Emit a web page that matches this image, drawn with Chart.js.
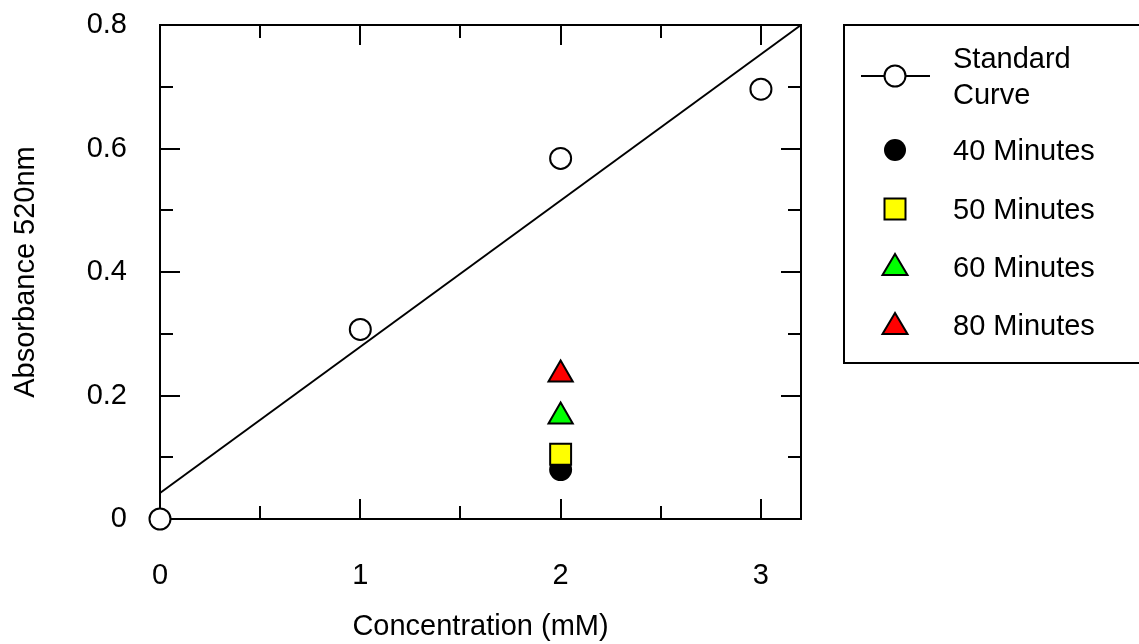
<!DOCTYPE html>
<html>
<head>
<meta charset="utf-8">
<script src="https://cdn.jsdelivr.net/npm/chart.js@4.4.1/dist/chart.umd.min.js"></script>
<style>
  body { margin: 0; background: #fff; overflow: hidden; }
  #wrap { position: relative; width: 1139px; height: 644px; overflow: hidden; }
  #legendBox { position: absolute; left: 843px; top: 24px; width: 320px; height: 340px; border: 2px solid #000; box-sizing: border-box; }
  .lg { position: absolute; left: 953px; font: 29px "Liberation Sans", Arial, sans-serif; line-height: 34px; color: #000; white-space: nowrap; }
  #marks { position: absolute; left: 0; top: 0; pointer-events: none; }
</style>
</head>
<body>
<div id="wrap">
  <canvas id="chart" width="1139" height="644"></canvas>
  <div id="legendBox"></div>
  <svg id="marks" width="1139" height="644"></svg>
</div>

<script>
// DATA
const stdX = [0, 1, 2, 3];
const stdY = [0, 0.307, 0.584, 0.696];

const fitX = [0, 3.2];
const fitY = [0.042, 0.8];

const timeLabels = ["40 Minutes", "50 Minutes", "60 Minutes", "80 Minutes"];
const timeX = [2, 2, 2, 2];
const timeY = [0.08, 0.105, 0.166, 0.234];

const xTicks = [0, 1, 2, 3];
const yTicks = [0, 0.2, 0.4, 0.6, 0.8];
const xMinor = [0.5, 1.5, 2.5];
const yMinor = [0.1, 0.3, 0.5, 0.7];

const FONT = "'Liberation Sans', Arial, sans-serif";

// STYLES PER TIME SERIES
const timeStyle = [
  { style: "circle", fill: "#000000", radius: 10.5 },
  { style: "rect", fill: "#ffff00", radius: 14.8 },
  { style: "triangle", fill: "#00ff00", radius: 14 },
  { style: "triangle", fill: "#ff0000", radius: 14 }
];

// FRAME + INWARD TICKS
const framePlugin = {
  id: "frame",
  beforeDatasetsDraw(chart) {
    const { ctx, chartArea: a, scales: { x, y } } = chart;
    ctx.save();
    ctx.strokeStyle = "#000";
    ctx.lineWidth = 2;
    ctx.lineCap = "butt";
    ctx.beginPath();
    const vMark = (v, len) => {
      const px = Math.round(x.getPixelForValue(v));
      ctx.moveTo(px, a.bottom); ctx.lineTo(px, a.bottom - len);
      ctx.moveTo(px, a.top); ctx.lineTo(px, a.top + len);
    };
    const hMark = (v, len) => {
      const py = Math.round(y.getPixelForValue(v));
      ctx.moveTo(a.left, py); ctx.lineTo(a.left + len, py);
      ctx.moveTo(a.right, py); ctx.lineTo(a.right - len, py);
    };
    xTicks.forEach(v => vMark(v, 20));
    xMinor.forEach(v => vMark(v, 13));
    yTicks.forEach(v => hMark(v, 20));
    yMinor.forEach(v => hMark(v, 13));
    ctx.stroke();
    ctx.strokeRect(a.left, a.top, a.right - a.left, a.bottom - a.top);
    ctx.restore();
  }
};

const datasets = [];

timeLabels.forEach((label, i) => {
  const s = timeStyle[i];
  datasets.push({
    label: label,
    data: [{ x: timeX[i], y: timeY[i] }],
    showLine: false,
    pointStyle: s.style,
    pointRadius: s.radius,
    pointBackgroundColor: s.fill,
    pointBorderColor: "#000",
    pointBorderWidth: 2,
    order: 4 - i,
    clip: false
  });
});

datasets.push({
  label: "Standard Curve",
  data: stdX.map((v, i) => ({ x: v, y: stdY[i] })),
  showLine: false,
  pointStyle: "circle",
  pointRadius: 10.5,
  pointBackgroundColor: "#ffffff",
  pointBorderColor: "#000",
  pointBorderWidth: 2,
  order: 5,
  clip: false
});

datasets.push({
  label: "fit",
  data: fitX.map((v, i) => ({ x: v, y: fitY[i] })),
  showLine: true,
  borderColor: "#000",
  borderWidth: 2,
  pointRadius: 0,
  order: 10,
  clip: false
});

new Chart(document.getElementById("chart"), {
  type: "scatter",
  data: { datasets: datasets },
  options: {
    responsive: false,
    animation: false,
    events: [],
    layout: { padding: { top: 25, right: 338, left: 0, bottom: 0 } },
    plugins: { legend: { display: false }, tooltip: { enabled: false } },
    scales: {
      x: {
        type: "linear",
        min: 0,
        max: 3.2,
        afterBuildTicks: s => { s.ticks = xTicks.map(v => ({ value: v })); },
        afterFit: s => { s.height = 125; s.paddingLeft = 0; s.paddingRight = 0; },
        grid: { display: false },
        border: { display: false },
        ticks: { color: "#000", padding: 32, font: { family: FONT, size: 29 } },
        title: {
          display: true,
          text: "Concentration (mM)",
          color: "#000",
          font: { family: FONT, size: 29 },
          padding: { top: 0, bottom: 0 }
        }
      },
      y: {
        type: "linear",
        min: 0,
        max: 0.8,
        afterBuildTicks: s => { s.ticks = yTicks.map(v => ({ value: v })); },
        afterFit: s => { s.width = 160; s.paddingTop = 0; s.paddingBottom = 0; },
        grid: { display: false },
        border: { display: false },
        ticks: {
          color: "#000",
          padding: 25,
          font: { family: FONT, size: 29 },
          callback: v => (v === 0 ? "0" : v.toFixed(1))
        },
        title: {
          display: true,
          text: "Absorbance 520nm",
          color: "#000",
          font: { family: FONT, size: 29 },
          padding: { top: 9, bottom: 0 }
        }
      }
    }
  },
  plugins: [framePlugin]
});

// LEGEND
const legendRows = [
  { text: "Standard<br>Curve", top: 40, lh: 36 },
  { text: timeLabels[0], top: 133, lh: 34 },
  { text: timeLabels[1], top: 192, lh: 34 },
  { text: timeLabels[2], top: 250, lh: 34 },
  { text: timeLabels[3], top: 308, lh: 34 }
];
const wrap = document.getElementById("wrap");
legendRows.forEach(r => {
  const d = document.createElement("div");
  d.className = "lg";
  d.style.top = r.top + "px";
  d.style.lineHeight = r.lh + "px";
  d.innerHTML = r.text;
  wrap.appendChild(d);
});

document.getElementById("marks").innerHTML = `
  <line x1="861" y1="76" x2="930" y2="76" stroke="#000" stroke-width="2"/>
  <circle cx="895" cy="76" r="10.5" fill="#fff" stroke="#000" stroke-width="2"/>
  <circle cx="895" cy="150" r="11" fill="#000"/>
  <rect x="884.5" y="198.5" width="21" height="21" fill="#ffff00" stroke="#000" stroke-width="2"/>
  <polygon points="895,254 882.5,275 907.5,275" fill="#00ff00" stroke="#000" stroke-width="2"/>
  <polygon points="895,313 882.5,334 907.5,334" fill="#ff0000" stroke="#000" stroke-width="2"/>
`;
</script>
</body>
</html>
